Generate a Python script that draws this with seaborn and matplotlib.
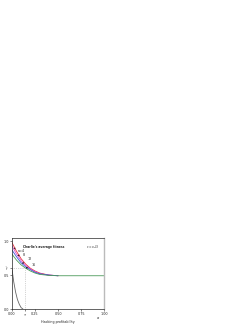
import numpy as np
import pandas as pd
import matplotlib.pyplot as plt
import seaborn as sns

# Data
x_vals = [0.0, 0.05, 0.10, 0.15, 0.20, 0.25, 0.30, 0.40, 0.50]
fit_n4 = [0.98, 0.85, 0.74, 0.66, 0.60, 0.56, 0.53, 0.50, 0.49]
fit_n8 = [0.93, 0.81, 0.71, 0.64, 0.59, 0.55, 0.52, 0.50, 0.49]
fit_n12 = [0.87, 0.77, 0.68, 0.62, 0.58, 0.54, 0.52, 0.50, 0.49]
x_n16 = [0.0, 0.05, 0.10, 0.15, 0.20, 0.25, 0.30, 0.40, 0.50, 0.75, 1.00]
fit_n16 = [0.81, 0.72, 0.65, 0.60, 0.56, 0.53, 0.51, 0.495, 0.49, 0.49, 0.49]
x_single = [0.0, 0.02, 0.04, 0.06, 0.08, 0.10, 0.12]
fit_single = [0.60, 0.40, 0.25, 0.14, 0.07, 0.02, 0.0]
tau = 0.14
f_tau = 0.60
labels = ["n=4", "8", "12", "16"]
colors = ["#e8323c", "#d94fd0", "#3b5bd9", "#4c9a5a"]


def main():
    sns.set_style("ticks")
    fig = plt.figure(figsize=(2.53, 3.27), dpi=100)
    ax = fig.add_axes([0.047, 0.055, 0.365, 0.217])

    df = pd.concat([
        pd.DataFrame({"x": x_vals, "f": fit_n4, "n": labels[0]}),
        pd.DataFrame({"x": x_vals, "f": fit_n8, "n": labels[1]}),
        pd.DataFrame({"x": x_vals, "f": fit_n12, "n": labels[2]}),
        pd.DataFrame({"x": x_n16, "f": fit_n16, "n": labels[3]}),
    ])
    sns.lineplot(data=df, x="x", y="f", hue="n", palette=colors, lw=0.6,
                 legend=False, ax=ax)
    sns.lineplot(x=x_single, y=fit_single, color="#666666", lw=0.6, ax=ax)

    # dotted guides
    ax.plot([0, tau], [f_tau, f_tau], ls=":", color="#aaaaaa", lw=0.5)
    ax.plot([tau, tau], [0, f_tau], ls=":", color="#aaaaaa", lw=0.5)

    ax.set_xlim(0, 1)
    ax.set_ylim(0, 1.045)
    ax.set_xticks([0, tau, 0.25, 0.5, 0.75, 1.0])
    ax.set_xticklabels(["0.00", r"$\tau$", "0.25", "0.50", "0.75", "1.00"])
    ax.set_yticks([0, 0.5, f_tau, 1.0])
    ax.set_yticklabels(["0.0", "0.5", r"$\bar{f}$", "1.0"])
    ax.tick_params(labelsize=2.4, length=1.2, width=0.4, pad=1)
    for s in ax.spines.values():
        s.set_linewidth(0.5)
    ax.spines["right"].set_linewidth(1.0)
    ax.spines["right"].set_color("#bbbbbb")

    ax.set_xlabel("Hacking profitability", fontsize=2.4, labelpad=1.5)
    ax.set_ylabel("")
    ax.text(0.93, -0.085, r"$\alpha$", fontsize=2.4, transform=ax.transAxes,
            ha="center", va="top")

    # Decorations
    ax.text(0.12, 0.87, "Charlie's average fitness", fontsize=2.2,
            fontweight="bold", transform=ax.transAxes, va="center")
    ax.text(0.94, 0.87, r"$\epsilon = x_0/3$", fontsize=2.2,
            transform=ax.transAxes, ha="right", va="center")

    arrow = dict(arrowstyle="->", lw=0.3, color="black")
    ax.annotate(labels[0], xy=(0.02, 0.90), xytext=(0.06, 0.85), fontsize=2.4,
                arrowprops=arrow, va="center")
    ax.annotate(labels[1], xy=(0.06, 0.79), xytext=(0.12, 0.79), fontsize=2.4,
                arrowprops=arrow, va="center")
    ax.annotate(labels[2], xy=(0.11, 0.67), xytext=(0.165, 0.73), fontsize=2.4,
                arrowprops=arrow, va="center")
    ax.annotate(labels[3], xy=(0.15, 0.60), xytext=(0.21, 0.65), fontsize=2.4,
                arrowprops=arrow, va="center")

    plt.savefig("out.png", dpi=100)


if __name__ == "__main__":
    main()
